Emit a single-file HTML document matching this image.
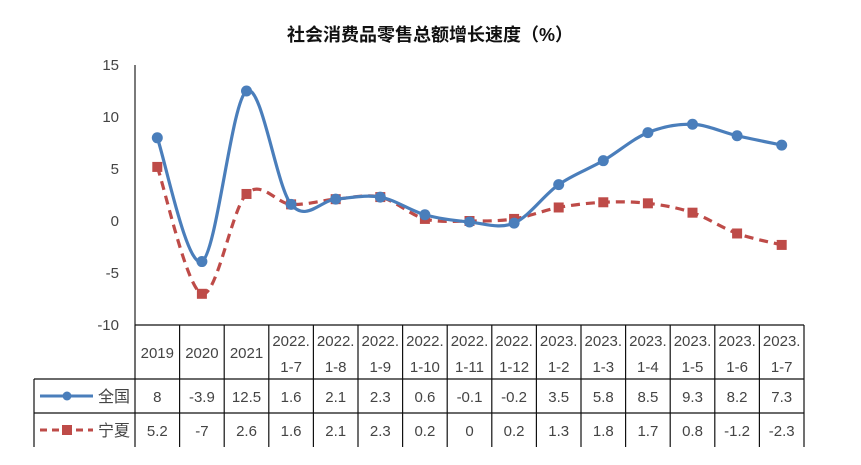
<!DOCTYPE html>
<html><head><meta charset="utf-8"><style>
body{margin:0;background:#fff;}
svg{display:block;font-family:"Liberation Sans","Noto Sans CJK SC",sans-serif;}
</style></head><body>
<svg id="s" width="861" height="465" viewBox="0 0 861 465">
<text x="430" y="41" text-anchor="middle" font-size="18" font-weight="bold" fill="#111">社会消费品零售总额增长速度（%）</text>
<g id="g"></g>
</svg>
<script>
var ns="http://www.w3.org/2000/svg",g=document.getElementById('g');
function el(t,a,txt){var e=document.createElementNS(ns,t);for(var k in a)e.setAttribute(k,a[k]);if(txt!==undefined)e.textContent=txt;g.appendChild(e);return e;}
var L=135,W=44.6,N=15,FS=15,TC='#444';
function X(i){return L+W*(i+0.5);}
function Y(v){return 221-v*10.4;}
var a=[8,-3.9,12.5,1.6,2.1,2.3,0.6,-0.1,-0.2,3.5,5.8,8.5,9.3,8.2,7.3];
var b=[5.2,-7,2.6,1.6,2.1,2.3,0.2,0,0.2,1.3,1.8,1.7,0.8,-1.2,-2.3];
var cats=[["2019"],["2020"],["2021"],["2022.","1-7"],["2022.","1-8"],["2022.","1-9"],["2022.","1-10"],["2022.","1-11"],["2022.","1-12"],["2023.","1-2"],["2023.","1-3"],["2023.","1-4"],["2023.","1-5"],["2023.","1-6"],["2023.","1-7"]];
[15,10,5,0,-5,-10].forEach(function(v){el('text',{x:119,y:Y(v)+5,'text-anchor':'end','font-size':FS,fill:TC},v);});
el('line',{x1:L,y1:65,x2:L,y2:325,stroke:'#222','stroke-width':1.2});
var R=L+W*N;
el('line',{x1:L,y1:325,x2:R,y2:325,stroke:'#111','stroke-width':1.2});
el('line',{x1:34,y1:379,x2:R,y2:379,stroke:'#111','stroke-width':1.2});
el('line',{x1:34,y1:413,x2:R,y2:413,stroke:'#111','stroke-width':1.2});
el('line',{x1:34,y1:379,x2:34,y2:447,stroke:'#111','stroke-width':1.2});
for(var i=0;i<=N;i++){el('line',{x1:L+W*i,y1:325,x2:L+W*i,y2:447,stroke:'#111','stroke-width':1.2});}
cats.forEach(function(c,i){
 if(c.length==1)el('text',{x:X(i),y:358,'text-anchor':'middle','font-size':FS,fill:TC},c[0]);
 else{el('text',{x:X(i),y:346,'text-anchor':'middle','font-size':FS,fill:TC},c[0]);el('text',{x:X(i),y:372,'text-anchor':'middle','font-size':FS,fill:TC},c[1]);}
 el('text',{x:X(i),y:402,'text-anchor':'middle','font-size':FS,fill:TC},a[i]);
 el('text',{x:X(i),y:436,'text-anchor':'middle','font-size':FS,fill:TC},b[i]);
});
el('text',{x:130,y:402,'text-anchor':'end','font-size':16,fill:TC},'全国');
el('text',{x:130,y:436,'text-anchor':'end','font-size':16,fill:TC},'宁夏');
el('line',{x1:40,y1:396,x2:93,y2:396,stroke:'#4a7ebb','stroke-width':3});
el('circle',{cx:67,cy:396,r:4.5,fill:'#4a7ebb'});
el('line',{x1:40,y1:430,x2:93,y2:430,stroke:'#be4b48','stroke-width':3,'stroke-dasharray':'7,5'});
el('rect',{x:62,y:425,width:10,height:10,fill:'#be4b48'});
function path(d){
 var p=d.map(function(v,i){return [X(i),Y(v)];});
 var s='M'+p[0][0]+','+p[0][1];
 for(var i=0;i<p.length-1;i++){
  var p0=p[i>0?i-1:i],p1=p[i],p2=p[i+1],p3=p[i+2<p.length?i+2:i+1];
  var t=6;
  var c1=[p1[0]+(p2[0]-p0[0])/t,p1[1]+(p2[1]-p0[1])/t];
  var c2=[p2[0]-(p3[0]-p1[0])/t,p2[1]-(p3[1]-p1[1])/t];
  s+='C'+c1+' '+c2+' '+p2;
 }
 return s;
}
el('path',{d:path(b),fill:'none',stroke:'#be4b48','stroke-width':3.2,'stroke-dasharray':'9,6'});
b.forEach(function(v,i){el('rect',{x:X(i)-5,y:Y(v)-5,width:10,height:10,fill:'#be4b48'});});
el('path',{d:path(a),fill:'none',stroke:'#4a7ebb','stroke-width':3.2});
a.forEach(function(v,i){el('circle',{cx:X(i),cy:Y(v),r:5.5,fill:'#4a7ebb'});});
</script>
</body></html>
